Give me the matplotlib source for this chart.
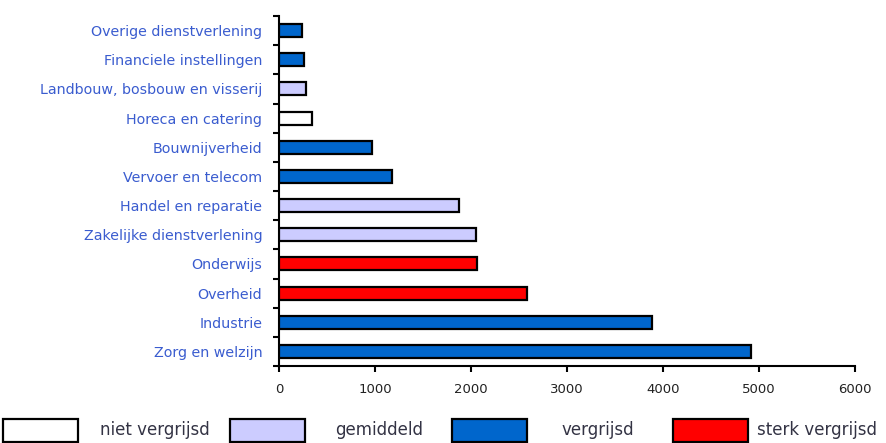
import matplotlib.pyplot as plt
from matplotlib.patches import Rectangle
import numpy as np

# sectoren van onder naar boven
sectoren = ["Zorg en welzijn", "Industrie", "Overheid", "Onderwijs",
            "Zakelijke dienstverlening", "Handel en reparatie",
            "Vervoer en telecom", "Bouwnijverheid", "Horeca en catering",
            "Landbouw, bosbouw en visserij", "Financiele instellingen",
            "Overige dienstverlening"]
aantallen = [4920, 3885, 2585, 2060, 2050, 1875, 1180, 970, 340, 280, 260, 240]
klasse = ["vergrijsd", "vergrijsd", "sterk vergrijsd", "sterk vergrijsd",
          "gemiddeld", "gemiddeld", "vergrijsd", "vergrijsd", "niet vergrijsd",
          "gemiddeld", "vergrijsd", "vergrijsd"]

klassen = ["niet vergrijsd", "gemiddeld", "vergrijsd", "sterk vergrijsd"]
kleuren = {"niet vergrijsd": "#ffffff", "gemiddeld": "#ccccff",
           "vergrijsd": "#0066cc", "sterk vergrijsd": "#ff0000"}
xticks = [0, 1000, 2000, 3000, 4000, 5000, 6000]

W, H = 886, 443
fig = plt.figure(figsize=(W / 100, H / 100), dpi=100)
ax = fig.add_axes([279 / W, (H - 366) / H, (855 - 279) / W, (366 - 16) / H])

y = np.arange(len(sectoren))
ax.barh(y, aantallen, height=0.45, color=[kleuren[k] for k in klasse],
        edgecolor="black", linewidth=1.6, zorder=3)

ax.set_xlim(0, 6000)
ax.set_ylim(-0.5, len(sectoren) - 0.5)
ax.set_xticks(xticks)
ax.set_xticklabels([str(t) for t in xticks], fontsize=9.5, color="#222222")
ax.set_yticks(y)
ax.set_yticklabels(sectoren, fontsize=10.3, color="#3a5ccf")
ax.set_yticks(np.arange(-0.5, len(sectoren)), minor=True)
ax.tick_params(axis="y", which="major", length=0, pad=12)
ax.tick_params(axis="y", which="minor", length=4, width=1.5, direction="out")
ax.tick_params(axis="x", length=4, width=1.5, pad=8)

for s in ["top", "right"]:
    ax.spines[s].set_visible(False)
for s in ["left", "bottom"]:
    ax.spines[s].set_linewidth(1.5)

# legenda onderaan
boxen = [(3, 100), (230, 335), (452, 562), (673, 757)]
for (bx, tx), k in zip(boxen, klassen):
    fig.add_artist(Rectangle((bx / W, 1 / H), 75 / W, 23 / H,
                             transform=fig.transFigure, facecolor=kleuren[k],
                             edgecolor="black", linewidth=1.6))
    fig.text(tx / W, 13 / H, k, fontsize=12, va="center", ha="left",
             color="#333344")

fig.savefig("out.png", dpi=100)
